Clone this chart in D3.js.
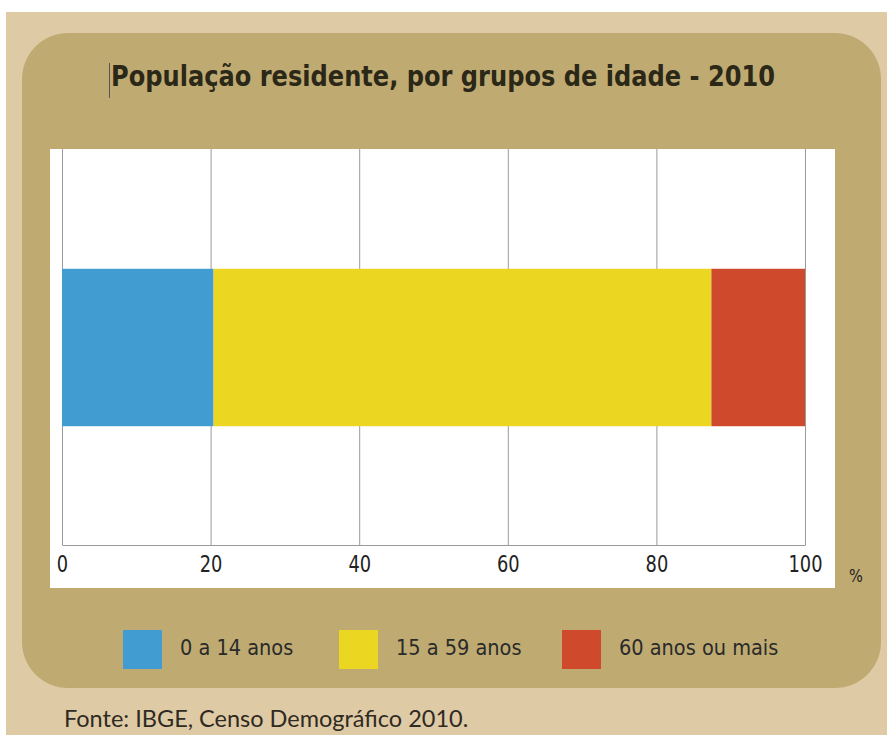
<!DOCTYPE html>
<html>
<head>
<meta charset="utf-8">
<script src="https://cdn.jsdelivr.net/npm/d3@7"></script>
<style>
html,body{margin:0;padding:0;background:#ffffff;}
svg{display:block;}
</style>
</head>
<body>
<svg id="chart" width="887" height="735"></svg>
<script>
const title = "População residente, por grupos de idade - 2010";
const categories = ["0 a 14 anos", "15 a 59 anos", "60 anos ou mais"];
const values = [20.4, 67.0, 12.6];
const colors = ["#419cd2", "#ebd721", "#cf4a2c"];
const barRow = ["2010"];
const tickValues = [0, 20, 40, 60, 80, 100];
const unitLabel = "%";
const source = "Fonte: IBGE, Censo Demográfico 2010.";

const svg = d3.select("#chart");
const condensed = "'DejaVu Sans Condensed', 'DejaVu Sans', sans-serif";

// backgrounds
svg.append("rect").attr("x", 6).attr("y", 12).attr("width", 881).attr("height", 723).attr("fill", "#dfcaa6");
svg.append("rect").attr("x", 22).attr("y", 33).attr("width", 859).attr("height", 655)
  .attr("rx", 46).attr("ry", 46).attr("fill", "#bfab72");
svg.append("rect").attr("x", 50).attr("y", 149).attr("width", 785).attr("height", 439).attr("fill", "#ffffff");

// title
svg.append("line").attr("x1", 109.5).attr("x2", 109.5).attr("y1", 63).attr("y2", 98)
  .attr("stroke", "#555").attr("stroke-width", 1);
svg.append("text").attr("x", 111).attr("y", 86)
  .attr("font-family", condensed)
  .attr("font-weight", "bold").attr("font-size", 29).attr("fill", "#2b2818")
  .attr("textLength", 664).attr("lengthAdjust", "spacingAndGlyphs")
  .text(title);

const x = d3.scaleLinear().domain([0, 100]).range([62, 805]);
const y = d3.scaleBand().domain(barRow).range([150, 545]).padding(0.43);

// grid + axis
const axis = d3.axisBottom(x).tickValues(tickValues).tickSize(-(545 - 149)).tickSizeOuter(0).tickPadding(0);
const gAxis = svg.append("g").attr("transform", "translate(0,545)").call(axis);
gAxis.select(".domain").attr("stroke", "#9a9a9a").attr("stroke-width", 1.2);
gAxis.selectAll(".tick line").attr("stroke", "#9a9a9a").attr("stroke-width", 1);
gAxis.selectAll(".tick text")
  .attr("font-family", condensed).attr("dy", null).attr("y", 27)
  .attr("font-size", 23).attr("fill", "#222")
  .attr("transform", "scale(0.86,1)");

svg.append("text").attr("x", 856).attr("y", 582).attr("text-anchor", "middle")
  .attr("font-family", condensed).attr("font-size", 18).attr("fill", "#222")
  .attr("transform", "translate(856,0) scale(0.9,1) translate(-856,0)")
  .text(unitLabel);

// stacked bar
const stackData = [];
let acc = 0;
values.forEach((v, i) => { stackData.push({cat: categories[i], x0: acc, x1: acc + v, color: colors[i]}); acc += v; });
svg.append("g").selectAll("rect").data(stackData).join("rect")
  .attr("x", d => x(d.x0)).attr("width", d => x(d.x1) - x(d.x0))
  .attr("y", y("2010")).attr("height", y.bandwidth())
  .attr("fill", d => d.color);

// legend
const legendX = [123, 339, 562];
const lg = svg.append("g").selectAll("g").data(categories).join("g")
  .attr("transform", (d, i) => `translate(${legendX[i]},630)`);
lg.append("rect").attr("width", 39).attr("height", 39).attr("fill", (d, i) => colors[i]);
lg.append("text").attr("x", 57).attr("y", 25)
  .attr("font-family", condensed)
  .attr("font-size", 21.5).attr("fill", "#2a2a2a").text(d => d);

// source
svg.append("text").attr("x", 64).attr("y", 727)
  .attr("font-family", "Lato, 'Open Sans', sans-serif").attr("font-size", 23.5).attr("fill", "#2f2a22")
  .text(source);
</script>
</body>
</html>
